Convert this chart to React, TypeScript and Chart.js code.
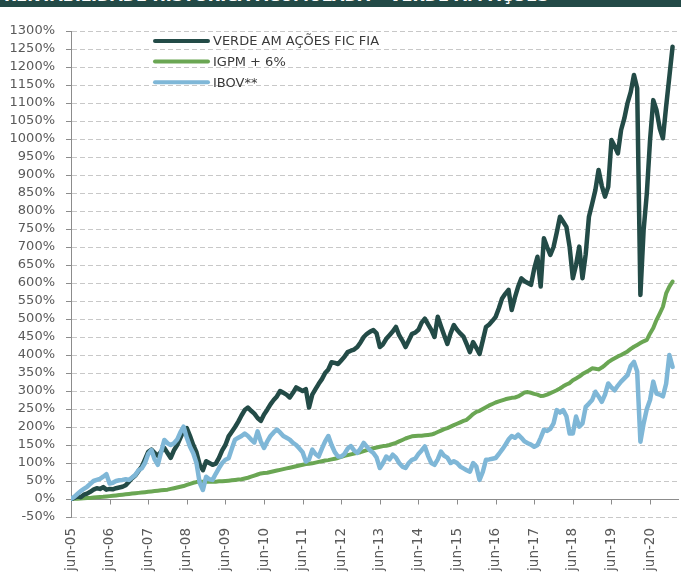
import React, { useEffect, useRef } from "react";
import { Chart, registerables } from "chart.js";

Chart.register(...registerables);

// Monthly observations, index 0 = jun-05 ... index 187 = jan-21 (cumulative %)
const xTickLabels = [
  "jun-05", "jun-06", "jun-07", "jun-08", "jun-09", "jun-10", "jun-11", "jun-12",
  "jun-13", "jun-14", "jun-15", "jun-16", "jun-17", "jun-18", "jun-19", "jun-20",
];

const seriesNames = ["VERDE AM AÇÕES FIC FIA", "IGPM + 6%", "IBOV**"];

const verde = [
  0, 3, 8, 5, 12, 15, 20, 26, 30, 28, 33, 26,
  28, 27, 30, 32, 34, 38, 48, 58, 65, 78, 90, 110,
  131, 137, 128, 120, 132, 142, 128, 114, 135, 150, 170, 190,
  197, 175, 150, 130, 95, 80, 105, 100, 95, 98, 114, 135,
  150, 174, 187, 200, 215, 232, 247, 254, 245, 237, 225, 217,
  235, 248, 263, 275, 285, 300, 295, 290, 282, 295, 310, 305,
  300, 305, 254, 290, 305, 320, 333, 350, 360, 380, 378, 375,
  385, 395, 408, 412, 415, 422, 435, 450, 459, 465, 469, 460,
  422, 430, 445, 455, 465, 478, 455, 440, 422, 440, 459, 462,
  470, 490, 501, 485, 470, 450, 506, 480, 455, 431, 460, 483,
  470, 460, 451, 430, 408, 436, 420, 403, 440, 478, 485, 495,
  506, 530, 557, 570, 581, 525, 560, 590, 613, 605, 600, 595,
  640, 673, 590, 724, 700, 678, 700, 740, 784, 770, 756, 700,
  613, 650, 701, 613, 680, 784, 820, 858, 914, 870, 840, 867,
  997, 980, 960, 1025, 1057, 1100, 1131, 1178, 1141, 567, 747, 849,
  997, 1108, 1081, 1030, 1002, 1090, 1173, 1256,
];

const igpm = [
  0, 0.5, 1, 1.5, 2, 2.5, 3, 4, 5, 5.5, 6, 7,
  8, 9, 10, 11, 12, 13, 14, 15, 16, 17, 18, 19,
  20, 21, 22, 23, 24, 25, 26, 28, 30, 32, 34, 36,
  39, 42, 45, 47, 48, 48, 48, 48, 48, 48, 49, 49,
  50, 51, 52, 53, 54, 55, 57, 59, 62, 65, 68, 71,
  72, 73, 75, 77, 79, 81, 83, 85, 87, 89, 91, 93,
  95, 97, 98, 99, 101, 103, 105, 107, 108, 110, 112, 114,
  117, 120, 122, 124, 126, 128, 130, 133, 136, 139, 141, 143,
  145, 147, 148, 150, 153, 156, 160, 164, 168, 171, 174, 175,
  176, 176, 177, 178, 179, 182, 186, 190, 194, 197, 201, 205,
  209, 213, 217, 220, 228, 236, 242, 245, 250, 255, 260, 264,
  268, 271, 274, 277, 279, 281, 282, 285, 290, 296, 297, 295,
  292, 290, 286, 287, 290, 294, 298, 302, 307, 313, 318, 322,
  330, 335, 340, 347, 352, 357, 363, 362, 360, 365, 372, 380,
  386, 391, 396, 400, 405, 410, 417, 423, 428, 433, 438, 442,
  460, 475, 497, 515, 534, 571, 590, 604,
];

const ibov = [
  0, 6, 14, 22, 28, 34, 42, 50, 53, 56, 62, 69,
  43, 45, 50, 52, 53, 55, 53, 60, 67, 80, 85, 100,
  125, 136, 110, 95, 130, 164, 155, 150, 155, 165, 185, 201,
  170, 145, 127, 100, 45, 25, 62, 55, 53, 70, 86, 100,
  109, 113, 140, 165, 170, 175, 182, 175, 165, 157, 188, 160,
  142, 160, 175, 185, 193, 185, 175, 170, 165, 156, 150, 140,
  130, 104, 110, 137, 125, 118, 140, 160, 175, 150, 130, 118,
  118, 125, 140, 147, 135, 128, 140, 156, 145, 135, 128, 115,
  86, 100, 118, 110, 123, 115, 100, 90, 86, 100, 109, 112,
  125, 135, 146, 120, 100, 95, 110, 132, 120, 115, 100, 105,
  100, 90, 85, 80, 76, 100, 90, 53, 75, 109, 110, 112,
  114, 125, 137, 150, 165, 175, 170, 179, 170, 160, 155, 151,
  145, 150, 170, 192, 189, 195, 210, 247, 240, 247, 230, 182,
  182, 229, 201, 210, 256, 265, 275, 298, 285, 270, 290, 321,
  310, 302, 315, 326, 335, 344, 370, 381, 354, 159, 210, 250,
  275, 326, 293, 290, 285, 320, 400, 367,
];

const COLOR_VERDE = "#234b47";
const COLOR_IGPM = "#6aa653";
const COLOR_IBOV = "#7fb7d7";
const TEXT_GRAY = "#595959";
const FONT = "'DejaVu Sans', sans-serif";

const W = 681;
const H = 600;

export default function App() {
  const ref = useRef<HTMLCanvasElement>(null);

  useEffect(() => {
    const canvas = ref.current;
    if (!canvas) return;
    const toXY = (arr: number[]) => arr.map((y, i) => ({ x: i, y }));

    const zeroLine = {
      id: "zeroLine",
      beforeDatasetsDraw(chart: any) {
        const { ctx, chartArea, scales } = chart;
        const y0 = Math.round(scales.y.getPixelForValue(0)) + 0.5;
        ctx.save();
        ctx.strokeStyle = "#8c8c8c";
        ctx.lineWidth = 1;
        ctx.setLineDash([]);
        ctx.beginPath();
        ctx.moveTo(chartArea.left, y0);
        ctx.lineTo(chartArea.right, y0);
        for (let i = 0; i < xTickLabels.length; i++) {
          const x = Math.round(scales.x.getPixelForValue(i * 12)) + 0.5;
          ctx.moveTo(x, y0);
          ctx.lineTo(x, y0 + 5);
        }
        ctx.stroke();
        ctx.restore();
      },
    };

    const innerLegend = {
      id: "innerLegend",
      afterDraw(chart: any) {
        const { ctx, chartArea } = chart;
        const colors = [COLOR_VERDE, COLOR_IGPM, COLOR_IBOV];
        const x0 = chartArea.left + 84;
        const lineLen = 53;
        ctx.save();
        ctx.font = `13px ${FONT}`;
        ctx.textBaseline = "middle";
        seriesNames.forEach((name, i) => {
          const y = chartArea.top + 10 + i * 20.6;
          ctx.strokeStyle = colors[i];
          ctx.lineWidth = 4;
          ctx.lineCap = "round";
          ctx.beginPath();
          ctx.moveTo(x0, y);
          ctx.lineTo(x0 + lineLen, y);
          ctx.stroke();
          ctx.fillStyle = "#3a3a3a";
          ctx.fillText(name, x0 + lineLen + 5, y + 1);
        });
        ctx.restore();
      },
    };

    const chart = new Chart(canvas, {
      type: "line",
      data: {
        datasets: [
          {
            label: seriesNames[0],
            data: toXY(verde),
            borderColor: COLOR_VERDE,
            borderWidth: 4.5,
            pointRadius: 0,
            tension: 0,
            borderJoinStyle: "round",
            borderCapStyle: "round",
            order: 2,
          },
          {
            label: seriesNames[1],
            data: toXY(igpm),
            borderColor: COLOR_IGPM,
            borderWidth: 4,
            pointRadius: 0,
            tension: 0,
            borderJoinStyle: "round",
            borderCapStyle: "round",
            order: 3,
          },
          {
            label: seriesNames[2],
            data: toXY(ibov),
            borderColor: COLOR_IBOV,
            borderWidth: 4.5,
            pointRadius: 0,
            tension: 0,
            borderJoinStyle: "round",
            borderCapStyle: "round",
            order: 1,
          },
        ],
      },
      options: {
        responsive: false,
        animation: false,
        devicePixelRatio: 1,
        layout: { padding: { top: 31, right: 2, left: 0, bottom: 0 } },
        plugins: {
          legend: { display: false },
          tooltip: { enabled: false },
          title: { display: false },
        },
        scales: {
          x: {
            type: "linear",
            min: 0,
            max: 189,
            grid: { display: false, drawTicks: false },
            border: { display: false },
            ticks: {
              stepSize: 12,
              autoSkip: false,
              includeBounds: false,
              minRotation: 90,
              maxRotation: 90,
              padding: 11,
              color: TEXT_GRAY,
              font: { family: FONT, size: 13.5 },
              callback: (v: any) => {
                const idx = Math.round(Number(v) / 12);
                return xTickLabels[idx] ?? "";
              },
            },
            afterFit: (s: any) => {
              s.height = H - 517;
            },
          },
          y: {
            type: "linear",
            min: -50,
            max: 1300,
            grid: {
              color: "#c8c8c8",
              lineWidth: 1,
              tickLength: 5,
              tickColor: "#8c8c8c",
              tickBorderDash: [],
            },
            border: { display: true, color: "#8c8c8c", width: 1, dash: [5, 3] },
            ticks: {
              stepSize: 50,
              autoSkip: false,
              padding: 11,
              color: TEXT_GRAY,
              font: { family: FONT, size: 13 },
              callback: (v: any) => `${v}%`,
            },
            afterFit: (s: any) => {
              s.width = 71;
            },
          },
        },
      } as any,
      plugins: [zeroLine, innerLegend],
    });
    return () => chart.destroy();
  }, []);

  return (
    <div
      style={{
        position: "fixed",
        left: 0,
        top: 0,
        width: W,
        height: 579,
        overflow: "hidden",
        background: "#ffffff",
      }}
    >
      <canvas
        ref={ref}
        width={W}
        height={H}
        style={{ position: "absolute", left: 0, top: 0, width: W, height: H }}
      />
      <div
        style={{
          position: "absolute",
          left: 0,
          top: 0,
          width: W,
          height: 7,
          overflow: "hidden",
          background: "#234a47",
        }}
      >
        <div
          style={{
            marginTop: -12,
            marginLeft: 4,
            color: "#ffffff",
            fontFamily: FONT,
            fontWeight: "bold",
            fontSize: 16,
            lineHeight: "16px",
            whiteSpace: "nowrap",
          }}
        >
          RENTABILIDADE HISTÓRICA ACUMULADA – VERDE AM AÇÕES
        </div>
      </div>
    </div>
  );
}
